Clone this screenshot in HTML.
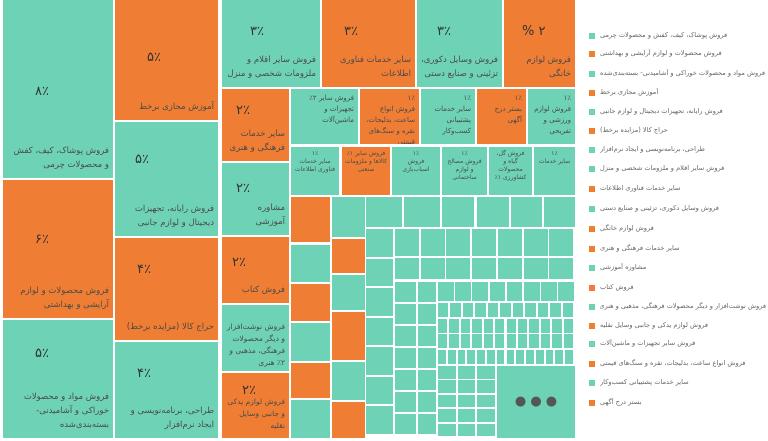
<!DOCTYPE html>
<html><head><meta charset="utf-8"><style>
body{margin:0;width:768px;height:441px;background:#fff;overflow:hidden;font-family:"DejaVu Sans","Liberation Sans",sans-serif}
.b{position:absolute;box-sizing:border-box;direction:rtl;text-align:right;color:#4a4a4a;overflow:hidden}
.t{background:#6ed3b6}.o{background:#ef7e34}
.p{position:absolute;font-size:13px;color:#333;direction:ltr}
.l{position:absolute;left:4px;right:4px;bottom:6px;font-size:8.5px;line-height:14px}
.s{font-size:6px;line-height:8px;padding:3px 3px;text-align:center}
.m{font-size:7px;line-height:11px;padding:4px}
.leg{position:absolute;left:589px;width:179px;height:12px;font-size:6.6px;color:#666;white-space:nowrap}
.leg i{position:absolute;left:0;top:2px;width:6px;height:6px}
.leg span{position:absolute;left:11px;top:0;width:166px;direction:rtl;text-align:left;overflow:hidden}
</style></head><body>
<!-- col1 -->
<div class="b t" style="left:3px;top:0;width:110px;height:178px"><div class="p" style="left:32px;top:84px">۸٪</div><div class="l">فروش پوشاک، کیف، کفش و محصولات چرمی</div></div>
<div class="b o" style="left:3px;top:180px;width:110px;height:138px"><div class="p" style="left:32px;top:52px">۶٪</div><div class="l">فروش محصولات و لوازم آرایشی و بهداشتی</div></div>
<div class="b t" style="left:3px;top:320px;width:110px;height:118px"><div class="p" style="left:32px;top:26px">۵٪</div><div class="l">فروش مواد و محصولات خوراکی و آشامیدنی- بسته‌بندی‌شده</div></div>
<!-- col2 -->
<div class="b o" style="left:115px;top:0;width:103px;height:120px"><div class="p" style="left:32px;top:50px">۵٪</div><div class="l">آموزش مجازی برخط</div></div>
<div class="b t" style="left:115px;top:122px;width:103px;height:114px"><div class="p" style="left:20px;top:30px">۵٪</div><div class="l">فروش رایانه، تجهیزات دیجیتال و لوازم جانبی</div></div>
<div class="b o" style="left:115px;top:238px;width:103px;height:102px"><div class="p" style="left:22px;top:24px">۴٪</div><div class="l">حراج کالا (مزایده برخط)</div></div>
<div class="b t" style="left:115px;top:342px;width:103px;height:96px"><div class="p" style="left:22px;top:24px">۴٪</div><div class="l">طراحی، برنامه‌نویسی و ایجاد نرم‌افزار</div></div>
<!-- top row -->
<div class="b t" style="left:222px;top:0;width:98px;height:87px"><div class="p" style="left:28px;top:24px">۳٪</div><div class="l">فروش سایر اقلام و ملزومات شخصی و منزل</div></div>
<div class="b o" style="left:322px;top:0;width:93px;height:87px"><div class="p" style="left:22px;top:24px">۳٪</div><div class="l">سایر خدمات فناوری اطلاعات</div></div>
<div class="b t" style="left:417px;top:0;width:85px;height:87px"><div class="p" style="left:20px;top:24px">۳٪</div><div class="l">فروش وسایل دکوری، تزئینی و صنایع دستی</div></div>
<div class="b o" style="left:504px;top:0;width:71px;height:87px"><div class="p" style="left:18px;top:24px">% ۲</div><div class="l">فروش لوازم خانگی</div></div>
<!-- col3 -->
<div class="b o" style="left:222px;top:89px;width:67px;height:72px"><div class="p" style="left:14px;top:14px">۲٪</div><div class="l">سایر خدمات فرهنگی و هنری</div></div>
<div class="b t" style="left:222px;top:163px;width:67px;height:72px"><div class="p" style="left:14px;top:18px">۲٪</div><div class="l">مشاوره آموزشی</div></div>
<div class="b o" style="left:222px;top:237px;width:67px;height:66px"><div class="p" style="left:10px;top:18px">۲٪</div><div class="l">فروش کتاب</div></div>
<div class="b t" style="left:222px;top:305px;width:67px;height:66px"><div class="l" style="font-size:7.5px;line-height:12px;bottom:2px">فروش نوشت‌افزار و دیگر محصولات فرهنگی، مذهبی و ۲٪ هنری</div></div>
<div class="b o" style="left:222px;top:373px;width:67px;height:65px"><div class="p" style="left:20px;top:10px">۲٪</div><div class="l" style="font-size:7.5px;line-height:12px">فروش لوازم یدکی و جانبی وسایل نقلیه</div></div>
<!-- row2 -->
<div class="b t m" style="left:291px;top:89px;width:67px;height:55px">فروش سایر ۲٪ تجهیزات و ماشین‌آلات</div>
<div class="b o m" style="left:360px;top:89px;width:59px;height:55px">۱٪<br>فروش انواع ساعت، بدلیجات، نقره و سنگ‌های قیمتی</div>
<div class="b t m" style="left:421px;top:89px;width:54px;height:55px">۱٪<br>سایر خدمات پشتیبانی کسب‌وکار</div>
<div class="b o m" style="left:477px;top:89px;width:49px;height:55px">۱٪<br>بستر درج آگهی</div>
<div class="b t m" style="left:528px;top:89px;width:47px;height:55px">۱٪<br>فروش لوازم ورزشی و تفریحی</div>
<!-- row3 -->
<div class="b t s" style="left:291px;top:147px;width:48px;height:48px">۱٪<br>سایر خدمات فناوری اطلاعات</div>
<div class="b o s" style="left:342px;top:147px;width:48px;height:48px">فروش سایر ۱٪ کالاها و ملزومات صنعتی</div>
<div class="b t s" style="left:392px;top:147px;width:48px;height:48px">۱٪<br>فروش اسباب‌بازی</div>
<div class="b t s" style="left:442px;top:147px;width:45px;height:48px">۱٪<br>فروش مصالح و لوازم ساختمانی</div>
<div class="b t s" style="left:489px;top:147px;width:43px;height:48px">فروش گل، گیاه و محصولات کشاورزی ۱٪</div>
<div class="b t s" style="left:534px;top:147px;width:41px;height:48px">۱٪<br>سایر خدمات</div>
<div id="g"></div>
<!-- legend -->
<div class="leg" style="top:31px"><i class="t"></i><span>فروش پوشاک، کیف، کفش و محصولات چرمی</span></div>
<div class="leg" style="top:49px"><i class="o"></i><span>فروش محصولات و لوازم آرایشی و بهداشتی</span></div>
<div class="leg" style="top:69px"><i class="t"></i><span>فروش مواد و محصولات خوراکی و آشامیدنی- بسته‌بندی‌شده</span></div>
<div class="leg" style="top:88px"><i class="o"></i><span>آموزش مجازی برخط</span></div>
<div class="leg" style="top:107px"><i class="t"></i><span>فروش رایانه، تجهیزات دیجیتال و لوازم جانبی</span></div>
<div class="leg" style="top:126px"><i class="o"></i><span>حراج کالا (مزایده برخط)</span></div>
<div class="leg" style="top:145px"><i class="t"></i><span>طراحی، برنامه‌نویسی و ایجاد نرم‌افزار</span></div>
<div class="leg" style="top:164px"><i class="t"></i><span>فروش سایر اقلام و ملزومات شخصی و منزل</span></div>
<div class="leg" style="top:184px"><i class="o"></i><span>سایر خدمات فناوری اطلاعات</span></div>
<div class="leg" style="top:204px"><i class="t"></i><span>فروش وسایل دکوری، تزئینی و صنایع دستی</span></div>
<div class="leg" style="top:224px"><i class="o"></i><span>فروش لوازم خانگی</span></div>
<div class="leg" style="top:244px"><i class="o"></i><span>سایر خدمات فرهنگی و هنری</span></div>
<div class="leg" style="top:263px"><i class="t"></i><span>مشاوره آموزشی</span></div>
<div class="leg" style="top:283px"><i class="o"></i><span>فروش کتاب</span></div>
<div class="leg" style="top:302px"><i class="t"></i><span>فروش نوشت‌افزار و دیگر محصولات فرهنگی، مذهبی و هنری</span></div>
<div class="leg" style="top:321px"><i class="o"></i><span>فروش لوازم یدکی و جانبی وسایل نقلیه</span></div>
<div class="leg" style="top:339px"><i class="t"></i><span>فروش سایر تجهیزات و ماشین‌آلات</span></div>
<div class="leg" style="top:359px"><i class="o"></i><span>فروش انواع ساعت، بدلیجات، نقره و سنگ‌های قیمتی</span></div>
<div class="leg" style="top:378px"><i class="t"></i><span>سایر خدمات پشتیبانی کسب‌وکار</span></div>
<div class="leg" style="top:398px"><i class="o"></i><span>بستر درج آگهی</span></div>
<script>
var g=document.getElementById('g'),h='';
function B(x,y,w,hh,c,t){h+='<div class="b '+c+' s" style="left:'+x+'px;top:'+y+'px;width:'+w+'px;height:'+hh+'px">'+(t||'')+'</div>';}
var A=[[197,45,'o'],[245,37,'t'],[284,37,'o'],[323,38,'t'],[363,35,'o'],[400,38,'t']];
A.forEach(function(a){B(291,a[0],39,a[1],a[2]);});
var Bc=[[197,40,'t'],[239,34,'o'],[275,35,'t'],[312,48,'o'],[362,38,'t'],[402,36,'o']];
Bc.forEach(function(a){B(332,a[0],33,a[1],a[2]);});
[[366,36],[404,36],[442,32],[477,32],[511,31],[544,31]].forEach(function(a){B(a[0],197,a[1],30,'t');});
for(var i=0;i<7;i++)B(366,229+i*29.5,27,27.5,'t');
for(var r=0;r<2;r++){var y=r?258:229,hh=r?21:27;for(var i=0;i<7;i++)B(395+i*25.7,y,24,hh,'t');}
for(var i=0;i<7;i++){B(395,282+i*22,21,20,'t');B(418,282+i*22,18,20,'t');}
for(var i=0;i<8;i++)B(438+i*17.2,282,15.5,19,'t');
var rows=[[303,11,'t'],[319,12,'t'],[334,12,'t'],[350,14,'t']];
rows.forEach(function(r){var w=137/r[1];for(var i=0;i<r[1];i++)B(438+i*w,r[0],w-2,14,'t');});
for(var c=0;c<3;c++)for(var r=0;r<5;r++)B(438+c*19.5,366+r*14.4,17.5,12.5,'t');
h+='<div class="b t" style="left:497px;top:366px;width:78px;height:72px;text-align:center;line-height:72px;color:#555;font-size:13px;direction:ltr">● ● ●</div>';
g.innerHTML=h;
</script>
</body></html>
